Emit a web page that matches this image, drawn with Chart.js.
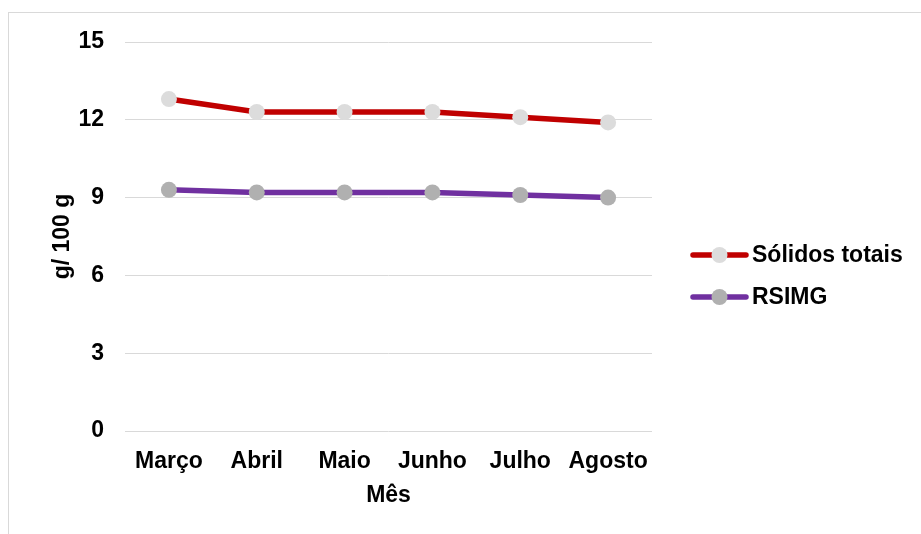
<!DOCTYPE html>
<html>
<head>
<meta charset="utf-8">
<script src="https://cdn.jsdelivr.net/npm/chart.js@4/dist/chart.umd.min.js"></script>
<style>
html,body{margin:0;padding:0;background:#fff;}
#frame{position:absolute;left:8px;top:12px;width:1000px;height:600px;border:1px solid #d9d9d9;box-sizing:border-box;}
#wrap{position:absolute;left:0;top:0;width:921px;height:534px;}
</style>
</head>
<body>
<div id="frame"></div>
<div id="wrap"><canvas id="c" width="921" height="534"></canvas></div>
<script>
const categories = ["Março", "Abril", "Maio", "Junho", "Julho", "Agosto"];
const solidosTotais = [12.8, 12.3, 12.3, 12.3, 12.1, 11.9];
const rsimg = [9.3, 9.2, 9.2, 9.2, 9.1, 9.0];
const seriesNames = ["Sólidos totais", "RSIMG"];
const yTicks = [0, 3, 6, 9, 12, 15];
const yTitle = "g/ 100 g";
const xTitle = "Mês";

const FONT = "'Liberation Sans', Arial, sans-serif";
const FS = 23;

const customLegend = {
  id: 'customLegend',
  afterDraw(chart) {
    const ctx = chart.ctx;
    const x0 = 693, lineW = 53, rowY = [255, 297];
    chart.data.datasets.forEach((ds, i) => {
      const y = rowY[i];
      ctx.save();
      ctx.strokeStyle = ds.borderColor;
      ctx.lineWidth = 5.5;
      ctx.lineCap = 'round';
      ctx.beginPath();
      ctx.moveTo(x0, y);
      ctx.lineTo(x0 + lineW, y);
      ctx.stroke();
      ctx.fillStyle = ds.pointBackgroundColor;
      ctx.beginPath();
      ctx.arc(x0 + lineW / 2, y, 8, 0, Math.PI * 2);
      ctx.fill();
      ctx.fillStyle = '#000';
      ctx.font = "bold " + FS + "px " + FONT;
      ctx.textBaseline = 'middle';
      ctx.textAlign = 'left';
      ctx.fillText(ds.label, x0 + lineW + 6, y + 1);
      ctx.restore();
    });
  }
};

new Chart(document.getElementById('c'), {
  type: 'line',
  data: {
    labels: categories,
    datasets: [
      {
        label: seriesNames[0],
        data: solidosTotais,
        borderColor: '#c00000',
        backgroundColor: '#c00000',
        borderWidth: 5.5,
        pointRadius: 8,
        pointHoverRadius: 8,
        pointBorderWidth: 0,
        pointBackgroundColor: '#dcdcdc',
        pointBorderColor: '#dcdcdc',
        tension: 0
      },
      {
        label: seriesNames[1],
        data: rsimg,
        borderColor: '#7030a0',
        backgroundColor: '#7030a0',
        borderWidth: 5.5,
        pointRadius: 8,
        pointHoverRadius: 8,
        pointBorderWidth: 0,
        pointBackgroundColor: '#b0b0b0',
        pointBorderColor: '#b0b0b0',
        tension: 0
      }
    ]
  },
  options: {
    responsive: false,
    animation: false,
    events: [],
    layout: { padding: { top: 42, right: 269, bottom: 0, left: 0 } },
    plugins: {
      legend: { display: false },
      tooltip: { enabled: false }
    },
    scales: {
      x: {
        offset: true,
        grid: { display: false },
        border: { display: false },
        ticks: {
          color: '#000',
          font: { family: FONT, size: FS, weight: 'bold' },
          padding: 9,
          maxRotation: 0,
          autoSkip: false
        },
        title: {
          display: true,
          text: xTitle,
          color: '#000',
          font: { family: FONT, size: FS, weight: 'bold' },
          padding: { top: 0, bottom: 25 }
        },
        afterFit(scale) { scale.height = 103; }
      },
      y: {
        min: 0,
        max: 15,
        afterBuildTicks(scale) { scale.ticks = yTicks.map(v => ({ value: v })); },
        grid: { color: '#d9d9d9', lineWidth: 1, drawTicks: false },
        border: { display: false },
        ticks: {
          color: '#000',
          font: { family: FONT, size: FS, weight: 'bold' },
          padding: 21
        },
        title: {
          display: true,
          text: yTitle,
          color: '#000',
          font: { family: FONT, size: FS, weight: 'bold' },
          padding: { top: 49, bottom: 0 }
        },
        afterFit(scale) { scale.width = 125; }
      }
    }
  },
  plugins: [customLegend]
});
</script>
</body>
</html>
